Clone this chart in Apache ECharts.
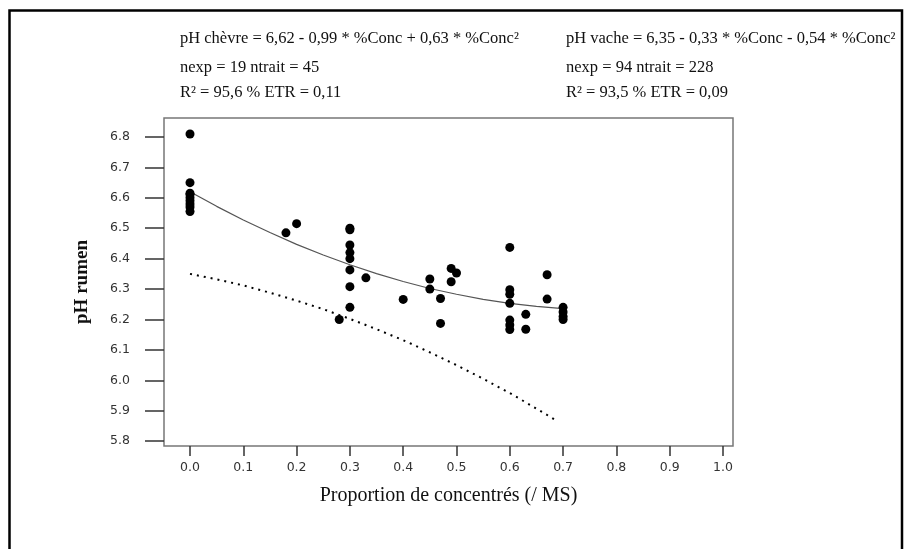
<!DOCTYPE html>
<html>
<head>
<meta charset="utf-8">
<script src="https://cdn.jsdelivr.net/npm/echarts@6/dist/echarts.min.js"></script>
<style>html,body{margin:0;padding:0;background:#fff}#c{width:908px;height:549px}</style>
</head>
<body>
<div id="c"></div>
<script>
// Observed points (concentrate proportion, rumen pH)
const obsX = [0,0,0,0,0,0,0,0,0,
  0.18,0.20,0.28,
  0.30,0.30,0.30,0.30,0.30,0.30,0.30,0.30,
  0.33,0.40,0.45,0.45,0.47,0.47,0.49,0.50,0.49,
  0.60,0.60,0.60,0.60,0.60,0.60,0.60,
  0.63,0.63,0.67,0.67,
  0.70,0.70,0.70,0.70];
const obsY = [6.81,6.65,6.615,6.61,6.60,6.59,6.58,6.57,6.555,
  6.485,6.515,6.20,
  6.50,6.495,6.445,6.42,6.40,6.363,6.308,6.24,
  6.337,6.266,6.333,6.30,6.269,6.187,6.368,6.353,6.324,
  6.437,6.298,6.283,6.253,6.198,6.182,6.167,
  6.217,6.168,6.347,6.267,
  6.24,6.225,6.21,6.20];
// Goat fitted curve
const goatX = [0,0.05,0.1,0.15,0.2,0.25,0.3,0.35,0.4,0.45,0.5,0.55,0.6,0.65,0.7];
const goatY = [6.62,6.572,6.527,6.486,6.447,6.412,6.380,6.351,6.325,6.302,6.283,6.266,6.253,6.243,6.236];
// Cow fitted curve
const cowX = [0,0.05,0.1,0.15,0.2,0.25,0.3,0.35,0.4,0.45,0.5,0.55,0.6,0.65,0.69];
const cowY = [6.35,6.332,6.312,6.288,6.262,6.234,6.202,6.168,6.132,6.092,6.050,6.005,5.958,5.907,5.865];
const xTicks = [0,0.1,0.2,0.3,0.4,0.5,0.6,0.7,0.8,0.9,1.0];
const yTicks = [5.8,5.9,6.0,6.1,6.2,6.3,6.4,6.5,6.6,6.7,6.8];
const goatText = ['pH chèvre = 6,62 - 0,99 * %Conc + 0,63 * %Conc²','nexp = 19 ntrait = 45','R² = 95,6 % ETR = 0,11'];
const cowText = ['pH vache = 6,35 - 0,33 * %Conc - 0,54 * %Conc²','nexp = 94 ntrait = 228','R² = 93,5 % ETR = 0,09'];

const zip = (a,b) => a.map((v,i)=>[v,b[i]]);
const serif = '"Liberation Serif", "DejaVu Serif", serif';
const txt = (s, x, y) => ({type:'text', left:x, top:y, style:{text:s, font:'16.5px ' + serif, fill:'#111'}});
const graphics = [
  {type:'polyline', shape:{points:[[9.5,549],[9.5,10.5],[902,10.5],[902,549]]}, style:{stroke:'#000', lineWidth:2.5, fill:null}}
];
const rowsY = [30,59,84];
goatText.forEach((s,i)=>graphics.push(txt(s,180,rowsY[i])));
cowText.forEach((s,i)=>graphics.push(txt(s,566,rowsY[i])));

const chart = echarts.init(document.getElementById('c'));
chart.setOption({
  animation:false,
  backgroundColor:'#fff',
  grid:{left:164, top:118, right:175, bottom:103, show:true, borderColor:'#777', borderWidth:1.5, backgroundColor:'transparent'},
  xAxis:{type:'value', min:-0.0488, max:1.0188,
    name:'Proportion de concentrés (/ MS)', nameLocation:'middle', nameGap:40,
    nameTextStyle:{fontFamily:serif, fontSize:20, color:'#111'},
    axisLine:{show:false, onZero:false}, splitLine:{show:false},
    axisTick:{show:true, length:10, lineStyle:{color:'#333', width:1.5}, customValues:xTicks},
    axisLabel:{customValues:xTicks, margin:15, fontFamily:'"DejaVu Sans", sans-serif', fontSize:12.5, color:'#333', formatter:v=>v.toFixed(1)}
  },
  yAxis:{type:'value', min:5.784, max:6.8625,
    name:'pH rumen', nameLocation:'middle', nameGap:72, nameRotate:90,
    nameTextStyle:{fontFamily:serif, fontSize:19, fontWeight:'bold', color:'#111'},
    axisLine:{show:false, onZero:false}, splitLine:{show:false},
    axisTick:{show:true, length:19, lineStyle:{color:'#333', width:1.5}, customValues:yTicks},
    axisLabel:{customValues:yTicks, margin:34, fontFamily:'"DejaVu Sans", sans-serif', fontSize:12.5, color:'#333', formatter:v=>v.toFixed(1)}
  },
  graphic:graphics,
  series:[
    {type:'line', data:zip(goatX,goatY), showSymbol:false, lineStyle:{color:'#555', width:1.2}, z:2},
    {type:'line', data:zip(cowX,cowY), showSymbol:false, lineStyle:{color:'#000', width:2, type:[2,5]}, z:2},
    {type:'scatter', data:zip(obsX,obsY), symbolSize:9, itemStyle:{color:'#000', opacity:1}, z:3}
  ]
});
</script>
</body>
</html>
